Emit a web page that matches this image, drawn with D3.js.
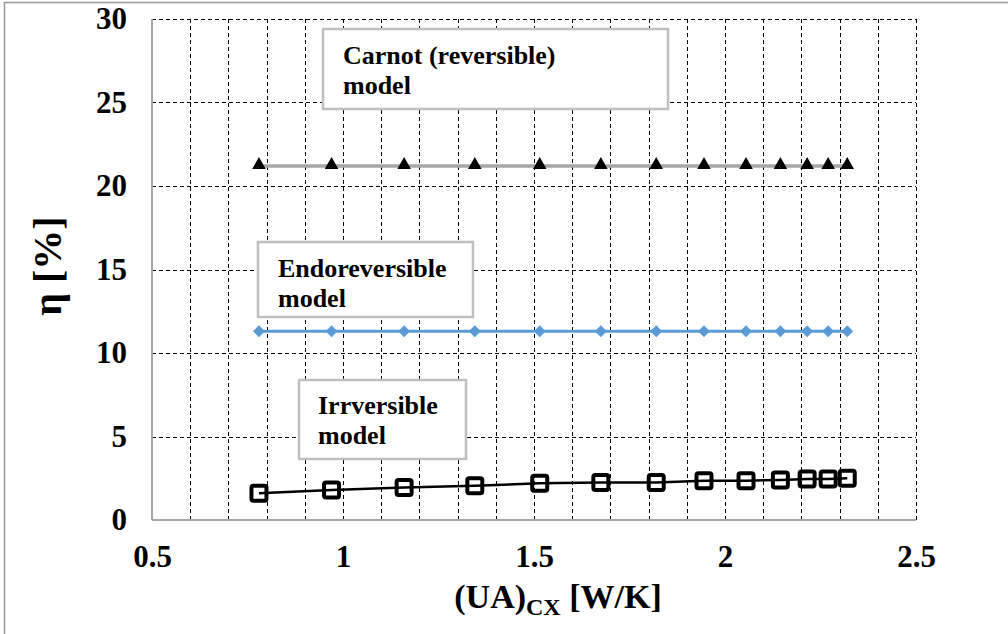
<!DOCTYPE html>
<html lang="en">
<head>
<meta charset="utf-8">
<title>Efficiency vs (UA)cx</title>
<script src="https://cdn.jsdelivr.net/npm/d3@7"></script>
<style>
  body { margin: 0; background: #fff; }
  svg text { font-family: "Liberation Serif", "Times New Roman", serif !important; font-weight: bold; fill: #000; }
  .grid line { stroke: #000; stroke-width: 1; stroke-dasharray: 4,3; shape-rendering: crispEdges; }
  .axis path, .axis line { display: none; }
</style>
</head>
<body>
<script>
// data
var uaValues = [0.78, 0.97, 1.16, 1.345, 1.515, 1.675, 1.82, 1.945, 2.055, 2.145, 2.215, 2.27, 2.32];
var carnotEta = [21.2, 21.2, 21.2, 21.2, 21.2, 21.2, 21.2, 21.2, 21.2, 21.2, 21.2, 21.2, 21.2];
var endoEta = [11.3, 11.3, 11.3, 11.3, 11.3, 11.3, 11.3, 11.3, 11.3, 11.3, 11.3, 11.3, 11.3];
var irrEta = [1.6, 1.8, 1.95, 2.05, 2.2, 2.25, 2.25, 2.35, 2.35, 2.4, 2.45, 2.45, 2.5];
var xTicks = [0.5, 1, 1.5, 2, 2.5];
var yTicks = [0, 5, 10, 15, 20, 25, 30];
var xGrid = d3.range(6, 26).map(function(d) { return d / 10; });
var boxLabels = [
  ["Carnot (reversible)", "model"],
  ["Endoreversible", "model"],
  ["Irrversible", "model"]
];

var W = 1008, H = 634;
var margin = {top: 19, right: 92, bottom: 114, left: 152};
var width = W - margin.left - margin.right,
    height = H - margin.top - margin.bottom;

var svg = d3.select("body").append("svg")
    .attr("width", W)
    .attr("height", H);

// outer frame (top + left only visible)
svg.append("line").attr("x1", 4).attr("x2", W).attr("y1", 2.5).attr("y2", 2.5)
    .attr("stroke", "#999").attr("stroke-width", 1.5);
svg.append("line").attr("x1", 4.5).attr("x2", 4.5).attr("y1", 2).attr("y2", H)
    .attr("stroke", "#999").attr("stroke-width", 1.5);

var g = svg.append("g")
    .attr("transform", "translate(" + margin.left + "," + margin.top + ")");

var x = d3.scaleLinear().domain([0.5, 2.5]).range([0, width]);
var y = d3.scaleLinear().domain([0, 30]).range([height, 0]);

// gridlines
var grid = g.append("g").attr("class", "grid");
grid.selectAll("line.v")
    .data(xGrid)
  .enter().append("line")
    .attr("class", "v")
    .attr("x1", function(d) { return Math.round(x(d)) + 0.5; })
    .attr("x2", function(d) { return Math.round(x(d)) + 0.5; })
    .attr("y1", 0)
    .attr("y2", height);
grid.selectAll("line.h")
    .data(yTicks.filter(function(d) { return d > 0; }))
  .enter().append("line")
    .attr("class", "h")
    .attr("x1", 0)
    .attr("x2", width)
    .attr("y1", function(d) { return Math.round(y(d)) + 0.5; })
    .attr("y2", function(d) { return Math.round(y(d)) + 0.5; });

// axis lines
g.append("line").attr("x1", 0).attr("x2", 0).attr("y1", 0).attr("y2", height)
    .attr("stroke", "#a6a6a6").attr("stroke-width", 2);
g.append("line").attr("x1", 0).attr("x2", width).attr("y1", height).attr("y2", height)
    .attr("stroke", "#a6a6a6").attr("stroke-width", 2);

// tick labels
g.append("g")
    .attr("class", "axis")
    .attr("transform", "translate(0," + height + ")")
    .call(d3.axisBottom(x).tickValues(xTicks).tickSize(0).tickPadding(25)
      .tickFormat(function(d) { return d; }))
    .selectAll("text")
    .style("font-size", "31px");

g.append("g")
    .attr("class", "axis")
    .call(d3.axisLeft(y).tickValues(yTicks).tickSize(0).tickPadding(25))
    .selectAll("text")
    .style("font-size", "31px");

// series
function drawLine(vals, color, w) {
  var line = d3.line()
      .x(function(d, i) { return x(uaValues[i]); })
      .y(function(d) { return y(d); });
  g.append("path")
      .datum(vals)
      .attr("fill", "none")
      .attr("stroke", color)
      .attr("stroke-width", w)
      .attr("d", line);
}

drawLine(carnotEta, "#a6a6a6", 3.5);
g.selectAll("path.tri")
    .data(carnotEta)
  .enter().append("path")
    .attr("class", "tri")
    .attr("transform", function(d, i) { return "translate(" + x(uaValues[i]) + "," + (y(d) - 1) + ")"; })
    .attr("d", d3.symbol().type(d3.symbolTriangle).size(80))
    .attr("fill", "#000");

drawLine(endoEta, "#5b9bd5", 3);
g.selectAll("path.dia")
    .data(endoEta)
  .enter().append("path")
    .attr("class", "dia")
    .attr("transform", function(d, i) { return "translate(" + x(uaValues[i]) + "," + y(d) + ") rotate(45)"; })
    .attr("d", d3.symbol().type(d3.symbolSquare).size(70))
    .attr("fill", "#5b9bd5");

drawLine(irrEta, "#000", 2.5);
g.selectAll("rect.sq")
    .data(irrEta)
  .enter().append("rect")
    .attr("class", "sq")
    .attr("x", function(d, i) { return x(uaValues[i]) - 7.5; })
    .attr("y", function(d) { return y(d) - 7.5; })
    .attr("width", 15)
    .attr("height", 15)
    .attr("rx", 2)
    .attr("fill", "none")
    .attr("stroke", "#000")
    .attr("stroke-width", 4);

// annotation boxes
var boxes = [
  {x: 323, y: 29, w: 345, h: 80, tx: 343, ty: 64},
  {x: 258, y: 242, w: 215, h: 75, tx: 278, ty: 277},
  {x: 299, y: 380, w: 167, h: 79, tx: 318, ty: 414}
];
boxes.forEach(function(b, i) {
  svg.append("rect")
      .attr("x", b.x).attr("y", b.y)
      .attr("width", b.w).attr("height", b.h)
      .attr("fill", "#fff")
      .attr("stroke", "#bfbfbf")
      .attr("stroke-width", 2.5);
  boxLabels[i].forEach(function(t, j) {
    svg.append("text")
        .attr("x", b.tx)
        .attr("y", b.ty + j * 30)
        .style("font-size", "26px")
        .text(t);
  });
});

// axis titles
var xt = svg.append("text")
    .attr("x", 558)
    .attr("y", 608)
    .attr("text-anchor", "middle")
    .style("font-size", "34px");
xt.append("tspan").text("(UA)");
xt.append("tspan").attr("dy", 7).style("font-size", "24px").text("CX");
xt.append("tspan").attr("dy", -7).text(" [W/K]");

svg.append("text")
    .attr("transform", "translate(61,266) rotate(-90)")
    .attr("text-anchor", "middle")
    .style("font-size", "40px")
    .text("\u03b7  [%]");
</script>
</body>
</html>
